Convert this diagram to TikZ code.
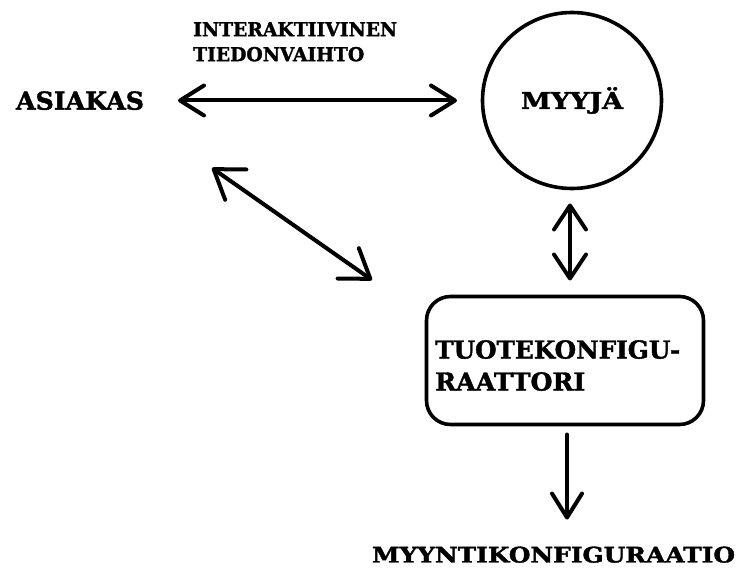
\documentclass[tikz,border=0pt]{standalone}
\usepackage{fontspec}
\setmainfont{DejaVu Serif}
\newfontfamily\heavyserif{DejaVu Serif}[FakeBold=1.6]
\usepackage{graphicx}
\usetikzlibrary{arrows.meta,shapes.geometric}
% stretch a word horizontally to a given width, keeping its height
\newcommand{\wordfit}[2]{\resizebox{#1}{\height}{#2}}
\begin{document}
\begin{tikzpicture}[x=1pt,y=-1pt,
  word/.style={inner sep=0pt, outer sep=0pt, text depth=0pt},
  hbarb/.tip={Straight Barb[length=24pt,width=30pt,round]},
  vbarb/.tip={Straight Barb[length=24pt,width=32pt,round]},
  dbarb/.tip={Straight Barb[length=27pt,width=37pt,round]},
  link/.style={line width=4pt, line cap=round},
  frame/.style={draw, line width=3.6pt, outer sep=0pt}]
\useasboundingbox (0,0) rectangle (738,577);

% parties
\node[word, anchor=west, font=\fontsize{24.7}{30}\selectfont\heavyserif\bfseries]
  (asiakas) at (16,100.5) {\wordfit{128pt}{ASIAKAS}};
\node[frame, ellipse, minimum width=179pt, minimum height=176pt, inner sep=0pt,
  text height=17pt, text depth=0pt, yshift=-2pt,
  font=\fontsize{23.3}{28}\selectfont\heavyserif\bfseries]
  (myyja) at (572,98.5) {\wordfit{102pt}{MYYJÄ}};

% label of the exchange
\node[inner sep=0pt, anchor=north west, align=left,
  font=\fontsize{19.2}{25}\selectfont\heavyserif\bfseries]
  (vaihto) at (193,22) {\wordfit{204pt}{INTERAKTIIVINEN}\\\wordfit{171pt}{TIEDONVAIHTO}};

% configurator
\node[frame, rounded corners=24pt, minimum width=277pt, minimum height=128pt]
  (tuote) at (565,360.5) {};
\node[inner sep=0pt, anchor=north west, align=left,
  font=\fontsize{24.7}{32}\selectfont\heavyserif\bfseries]
  (tuoteteksti) at (435,340) {\wordfit{245pt}{TUOTEKONFIGU-}\\\wordfit{150pt}{RAATTORI}};

% result
\node[word, anchor=west, font=\fontsize{21.5}{26}\selectfont\heavyserif\bfseries]
  (tulos) at (372,554.5) {\wordfit{363pt}{MYYNTIKONFIGURAATIO}};

% connectors
\draw[link, hbarb-hbarb, shorten <=34pt, shorten >=25.5pt]
  (asiakas.east) -- (asiakas.east -| myyja.west);
\draw[link, vbarb-vbarb, shorten <=15pt, shorten >=16pt]
  ([xshift=-2pt]myyja.south) -- ([xshift=-2pt]myyja.south |- tuote.north);
\coordinate (d1) at (212,168);
\coordinate (d2) at (372,280);
\draw[link, dbarb-dbarb] (d1) -- (d2);
\draw[link, -hbarb, shorten <=10pt, shorten >=27pt]
  ([xshift=2pt]tuote.south) -- ([xshift=2pt]tuote.south |- tulos.north);
\end{tikzpicture}
\end{document}
